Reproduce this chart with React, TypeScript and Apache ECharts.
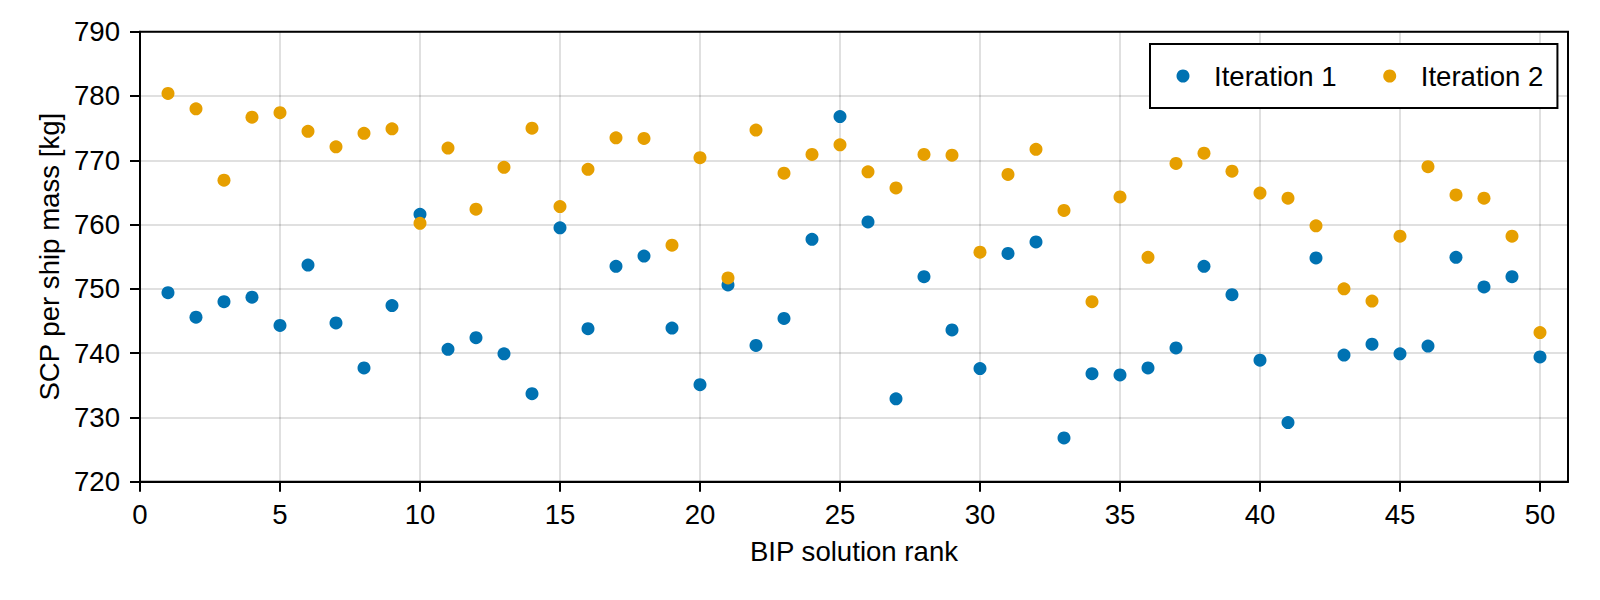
import React, { useEffect, useRef } from "react";
import * as echarts from "echarts";

const ranks = [1, 2, 3, 4, 5, 6, 7, 8, 9, 10, 11, 12, 13, 14, 15, 16, 17, 18, 19, 20, 21, 22, 23, 24, 25, 26, 27, 28, 29, 30, 31, 32, 33, 34, 35, 36, 37, 38, 39, 40, 41, 42, 43, 44, 45, 46, 47, 48, 49, 50];

const iteration1 = [749.4, 745.6, 748.0, 748.7, 744.3, 753.7, 744.7, 737.7, 747.4, 761.6, 740.6, 742.4, 739.9, 733.7, 759.5, 743.8, 753.5, 755.1, 743.9, 735.1, 750.6, 741.2, 745.4, 757.7, 776.8, 760.4, 732.9, 751.9, 743.6, 737.6, 755.5, 757.3, 726.8, 736.8, 736.6, 737.7, 740.8, 753.5, 749.1, 738.9, 729.2, 754.8, 739.7, 741.4, 739.9, 741.1, 754.9, 750.3, 751.9, 739.4];

const iteration2 = [780.4, 778.0, 766.9, 776.7, 777.4, 774.5, 772.1, 774.2, 774.9, 760.2, 771.9, 762.4, 768.9, 775.0, 762.8, 768.6, 773.5, 773.4, 756.8, 770.4, 751.7, 774.7, 768.0, 770.9, 772.4, 768.2, 765.7, 770.9, 770.8, 755.7, 767.8, 771.7, 762.2, 748.0, 764.3, 754.9, 769.5, 771.1, 768.3, 764.9, 764.1, 759.8, 750.0, 748.1, 758.2, 769.0, 764.6, 764.1, 758.2, 743.2];

const xTicks = [0, 5, 10, 15, 20, 25, 30, 35, 40, 45, 50];

const seriesNames = ["Iteration 1", "Iteration 2"];
const seriesColors = ["#0072B2", "#E69F00"];

const FONT = "'Liberation Sans', Arial, Helvetica, sans-serif";
const FS = 27.6;

export default function App() {
  const ref = useRef<HTMLDivElement>(null);
  useEffect(() => {
    document.body.style.margin = "0";
    const chart = echarts.init(ref.current!, null, { renderer: "svg" });
    const axisCommon = {
      axisLine: { show: true, onZero: false, lineStyle: { color: "#000", width: 2 } },
      axisTick: { show: true, inside: false, length: 10, lineStyle: { color: "#000", width: 2 } },
      splitLine: { show: true, lineStyle: { color: "rgba(0,0,0,0.12)", width: 2 } },
      nameLocation: "middle" as const,
      nameTextStyle: { fontSize: FS, color: "#000", fontFamily: FONT },
    };
    chart.setOption({
      animation: false,
      textStyle: { fontFamily: FONT },
      grid: {
        left: 140,
        right: 32,
        top: 31.7,
        bottom: 118.3,
        show: true,
        borderColor: "#000",
        borderWidth: 2,
        backgroundColor: "transparent",
      },
      legend: {
        data: seriesNames,
        left: 1150,
        top: 44,
        orient: "horizontal",
        icon: "circle",
        itemWidth: 13,
        itemHeight: 13,
        itemGap: 46.5,
        padding: [18, 14, 18, 26.5],
        borderColor: "#000",
        borderWidth: 2,
        backgroundColor: "#fff",
        textStyle: {
          fontSize: FS,
          color: "#000",
          fontFamily: FONT,
          lineHeight: 28,
          width: 122,
          overflow: "none",
          padding: [0, 0, 0, 19.5],
        },
      },
      xAxis: {
        ...axisCommon,
        type: "value",
        min: 0,
        max: 51,
        interval: 5,
        name: "BIP solution rank",
        nameGap: 56,
        axisTick: { ...axisCommon.axisTick, customValues: xTicks },
        axisLabel: {
          customValues: xTicks,
          fontSize: FS,
          color: "#000",
          margin: 19,
          fontFamily: FONT,
        },
      },
      yAxis: {
        ...axisCommon,
        type: "value",
        min: 720,
        max: 790,
        interval: 10,
        name: "SCP per ship mass [kg]",
        nameGap: 76,
        axisLabel: { fontSize: FS, color: "#000", margin: 20, fontFamily: FONT },
      },
      series: seriesNames.map((name, i) => ({
        name,
        type: "scatter",
        symbol: "circle",
        symbolSize: 13,
        itemStyle: { color: seriesColors[i], opacity: 1 },
        data: ranks.map((r, j) => [r, (i === 0 ? iteration1 : iteration2)[j]]),
      })),
    });
    return () => chart.dispose();
  }, []);
  return <div ref={ref} style={{ width: 1600, height: 600 }} />;
}
